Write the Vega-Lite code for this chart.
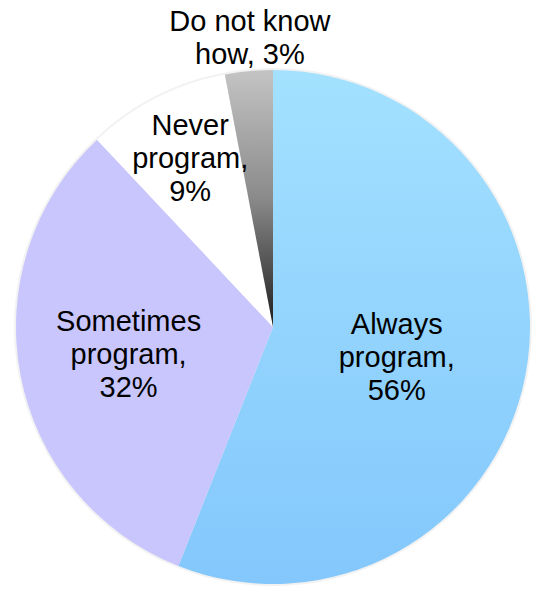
{
  "$schema": "https://vega.github.io/schema/vega-lite/v6.json",
  "width": 526,
  "height": 540,
  "autosize": "none",
  "padding": {"left": 10, "top": 57, "right": 0, "bottom": 0},
  "background": "white",
  "config": {"view": {"stroke": null}},
  "data": {
    "values": [
      {"category": "Always", "label": "Always\nprogram,\n56%", "value": 56, "rank": 1},
      {"category": "Sometimes", "label": "Sometimes\nprogram,\n32%", "value": 32, "rank": 2},
      {"category": "Never", "label": "Never\nprogram,\n9%", "value": 9, "rank": 3},
      {"category": "DoNotKnow", "label": "Do not know\nhow, 3%", "value": 3, "rank": 4}
    ]
  },
  "layer": [
    {
      "transform": [{"stack": "value", "groupby": [], "sort": [{"field": "rank", "order": "ascending"}], "as": ["v0", "v1"]}],
      "layer": [
        {
          "mark": {"type": "arc", "outerRadius": 259, "color": "#ececec", "opacity": 0.7},
          "encoding": {}
        },
        {
          "transform": [{"filter": "datum.category === 'Always'"}],
          "mark": {"type": "arc", "outerRadius": 257, "color": {"gradient": "linear", "x1": 0, "y1": 0, "x2": 0, "y2": 1, "stops": [{"offset": 0, "color": "#a3e1ff"}, {"offset": 1, "color": "#83c7fc"}]}},
          "encoding": {}
        },
        {
          "transform": [{"filter": "datum.category === 'Sometimes'"}],
          "mark": {"type": "arc", "outerRadius": 257, "color": "#c8c6fd"},
          "encoding": {}
        },
        {
          "transform": [{"filter": "datum.category === 'Never'"}],
          "mark": {"type": "arc", "outerRadius": 257, "color": "#ffffff"},
          "encoding": {}
        },
        {
          "transform": [{"filter": "datum.category === 'DoNotKnow'"}],
          "mark": {"type": "arc", "outerRadius": 257, "color": {"gradient": "linear", "x1": 0, "y1": 0, "x2": 0, "y2": 1, "stops": [{"offset": 0, "color": "#c4c4c4"}, {"offset": 0.5, "color": "#8a8a8a"}, {"offset": 1, "color": "#1e1e1e"}]}},
          "encoding": {}
        }
      ],
      "encoding": {
        "theta": {"field": "v0", "type": "quantitative", "scale": {"domain": [0, 100]}},
        "theta2": {"field": "v1"}
      }
    },
    {
      "encoding": {
        "theta": {"field": "value", "type": "quantitative", "stack": true},
        "order": {"field": "rank", "type": "quantitative", "sort": "ascending"}
      },
      "layer": [
        {
          "mark": {"type": "text", "radius": 128, "dx": -2, "dy": -26, "font": "Liberation Sans", "fontSize": 29, "lineHeight": 33, "color": "black", "align": "center", "baseline": "middle", "lineBreak": "\n"},
          "encoding": {"text": {"condition": {"test": "datum.category === 'Always'", "field": "label"}, "value": ""}}
        },
        {
          "mark": {"type": "text", "radius": 147, "dx": 0, "dy": -33, "font": "Liberation Sans", "fontSize": 29, "lineHeight": 33, "color": "black", "align": "center", "baseline": "middle", "lineBreak": "\n"},
          "encoding": {"text": {"condition": {"test": "datum.category === 'Sometimes'", "field": "label"}, "value": ""}}
        },
        {
          "mark": {"type": "text", "radius": 189, "dx": 3, "dy": -33, "font": "Liberation Sans", "fontSize": 29, "lineHeight": 33, "color": "black", "align": "center", "baseline": "middle", "lineBreak": "\n"},
          "encoding": {"text": {"condition": {"test": "datum.category === 'Never'", "field": "label"}, "value": ""}}
        },
        {
          "mark": {"type": "text", "radius": 288, "dx": 4, "dy": -18, "font": "Liberation Sans", "fontSize": 29, "lineHeight": 33, "color": "black", "align": "center", "baseline": "middle", "lineBreak": "\n"},
          "encoding": {"text": {"condition": {"test": "datum.category === 'DoNotKnow'", "field": "label"}, "value": ""}}
        }
      ]
    }
  ]
}
